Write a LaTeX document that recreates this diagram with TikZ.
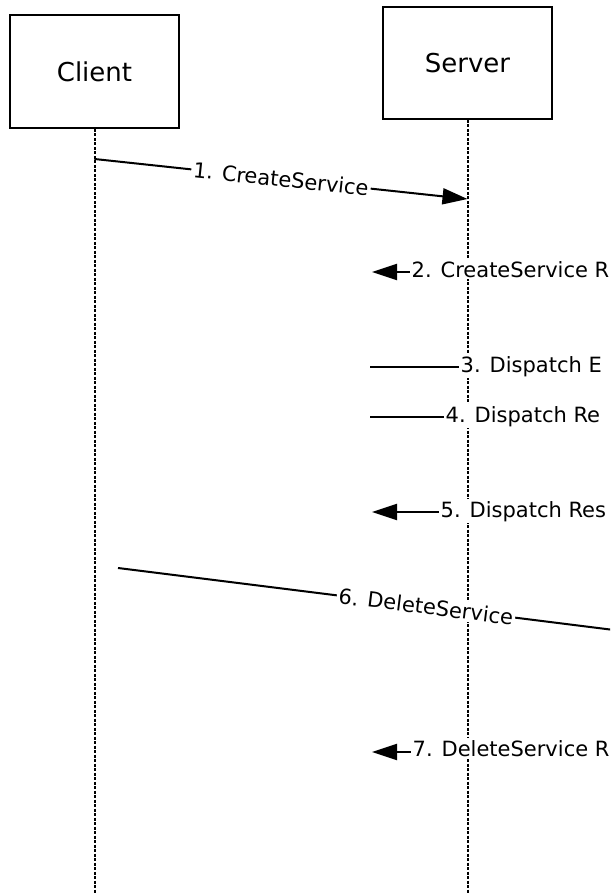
\documentclass[tikz,border=0pt]{standalone}
\usepackage{fontspec}
\setmainfont{DejaVu Sans}
\usetikzlibrary{arrows.meta}
\begin{document}
\begin{tikzpicture}[x=1pt,y=-1pt,
  actor/.style={draw, line width=2pt, minimum width=169pt, minimum height=113pt, inner sep=0pt, font=\fontsize{26}{30}\selectfont},
  lifeline/.style={line width=2pt, dash pattern=on 3pt off 1.5pt},
  msg/.style={line width=2pt},
  tip/.style={-{Triangle[length=25pt,width=16pt]}},
  lbl/.style={fill=white, inner xsep=2pt, inner ysep=2pt, font=\fontsize{21}{25}\selectfont},
  hl/.style={lbl, anchor=base west}
]
\useasboundingbox (0,0) rectangle (610,893);
\clip (0,0) rectangle (610,893);
\fill[white] (0,0) rectangle (610,893);

% actors
\node[actor] (client) at (94.5,71.5) {Client};
\node[actor, minimum height=112pt] (server) at (467.5,63) {Server};
\coordinate (bottom) at (0,893);

% lifelines
\draw[lifeline] (client.south) -- (client.south |- bottom);
\draw[lifeline] (server.south) -- (server.south |- bottom);

% message end points
\coordinate (m1s) at (94.5,159);
\coordinate (m1e) at (467.5,199);
\coordinate (m2e) at (372,272);
\coordinate (m3s) at (370,367);
\coordinate (m4s) at (370,417);
\coordinate (m5e) at (372,512);
\coordinate (m6s) at (118,568);
\coordinate (m6e) at (734,645);
\coordinate (m7e) at (372,752);

% labels of horizontal messages
\node[hl] (l2) at (409.5,277) {2. CreateService R};
\node[hl] (l3) at (458.5,372) {3. Dispatch E};
\node[hl] (l4) at (443.5,422) {4. Dispatch Re};
\node[hl] (l5) at (438.5,517) {5. Dispatch Res};
\node[hl] (l7) at (410.5,756) {7. DeleteService R};

% messages
\draw[msg,tip] (m1s) -- node[lbl,sloped] (l1) {1. CreateService} (m1e);
\draw[msg,tip] (l2.west |- m2e) -- (m2e);
\draw[msg] (m3s) -- (l3.west |- m3s);
\draw[msg] (m4s) -- (l4.west |- m4s);
\draw[msg,tip] (l5.west |- m5e) -- (m5e);
\draw[msg,tip] (m6s) -- node[lbl,sloped] (l6) {6. DeleteService} (m6e);
\draw[msg,tip] (l7.west |- m7e) -- (m7e);
\end{tikzpicture}
\end{document}
